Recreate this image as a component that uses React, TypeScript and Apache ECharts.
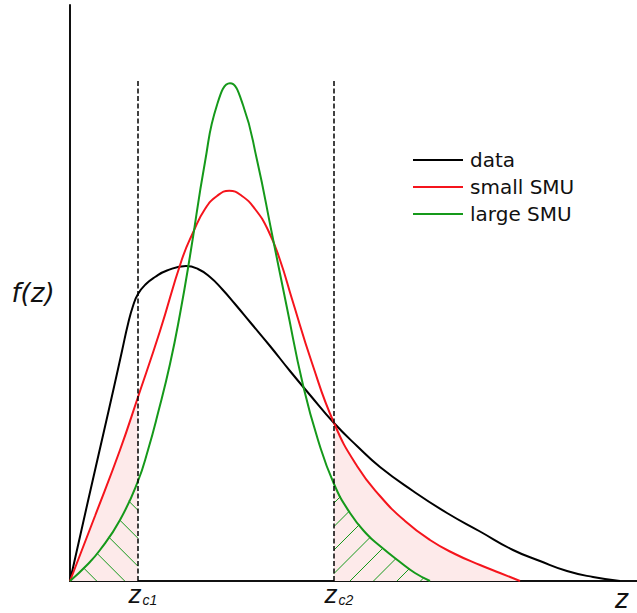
import React, { useEffect, useRef } from 'react';
import * as echarts from 'echarts';

// critical cut-offs z_c1, z_c2
const zCritical = [0.68, 2.64];
const zCriticalNames = ['c1', 'c2'];
const dashTop = 5.01;

const seriesNames = ['data', 'small SMU', 'large SMU'];

const dataCurve = [
  [0, 0], [0.18, 0.8], [0.34, 1.5], [0.44, 1.94], [0.52, 2.3], [0.58, 2.57], [0.63, 2.75],
  [0.68, 2.87], [0.76, 2.97], [0.85, 3.04], [0.97, 3.105], [1.16, 3.15], [1.28, 3.12],
  [1.4, 3.04], [1.52, 2.92], [1.65, 2.77], [1.8, 2.59], [2.0, 2.35], [2.2, 2.1], [2.4, 1.86],
  [2.64, 1.58], [2.87, 1.35], [3.1, 1.14], [3.43, 0.9], [3.77, 0.68], [4.1, 0.495],
  [4.43, 0.31], [4.7, 0.2], [4.97, 0.1], [5.23, 0.04], [5.5, 0],
];

const smallSMU = [
  [0, 0], [0.25, 0.65], [0.5, 1.31], [0.68, 1.84], [0.9, 2.5], [1.117, 3.21], [1.233, 3.49],
  [1.35, 3.72], [1.47, 3.85], [1.593, 3.903], [1.72, 3.85], [1.85, 3.72], [1.98, 3.51],
  [2.1, 3.21], [2.22, 2.82], [2.42, 2.18], [2.64, 1.58], [2.87, 1.15], [3.1, 0.85],
  [3.35, 0.6], [3.6, 0.41], [3.85, 0.27], [4.1, 0.16], [4.3, 0.08], [4.5, 0],
];

const largeSMU = [
  [0, 0], [0.16, 0.15], [0.3, 0.31], [0.5, 0.61], [0.68, 1.0], [0.78, 1.31], [0.88, 1.68],
  [1.0, 2.17], [1.1, 2.67], [1.2, 3.25], [1.35, 4.19], [1.47, 4.76], [1.6, 4.977],
  [1.73, 4.76], [1.87, 4.21], [2.02, 3.47], [2.17, 2.73], [2.33, 1.96], [2.48, 1.41],
  [2.64, 0.97], [2.8, 0.68], [2.967, 0.47], [3.1, 0.35], [3.3, 0.19], [3.45, 0.08], [3.6, 0],
];

const colors = ['#000000', '#f5141c', '#15991a'];

function interp(pts: number[][], x: number): number {
  if (x <= pts[0][0]) return pts[0][1];
  for (let i = 1; i < pts.length; i++) {
    if (x <= pts[i][0]) {
      const [x0, y0] = pts[i - 1];
      const [x1, y1] = pts[i];
      return y0 + ((y1 - y0) * (x - x0)) / (x1 - x0);
    }
  }
  return pts[pts.length - 1][1];
}

// hatch segments under the green curve in both tails
function buildHatch(): number[][][] {
  const segs: number[][][] = [];
  const [c1, c2] = zCritical;
  // left tail: lines y = a - x ("\")
  const gL = 0.28;
  for (let a = 0.267; a < c1 + interp(largeSMU, c1); a += gL) {
    let sx: number, sy: number;
    if (a <= c1) { sx = a; sy = 0; } else { sx = c1; sy = a - c1; }
    let x = sx;
    while (x > 0 && a - x < interp(largeSMU, x)) x -= 0.001;
    if (sx - x > 0.005) segs.push([[sx, sy], [x, a - x]]);
  }
  // right tail: lines y = x - a ("/")
  const gR = 0.235;
  for (let a = 2.80 - 6 * gR; a < 3.6; a += gR) {
    let sx: number, sy: number;
    if (a >= c2) { sx = a; sy = 0; } else { sx = c2; sy = c2 - a; }
    if (sy >= interp(largeSMU, c2)) continue;
    let x = sx;
    while (x < 3.6 && x - a < interp(largeSMU, x)) x += 0.001;
    if (x - sx > 0.005) segs.push([[sx, sy], [x, x - a]]);
  }
  return segs;
}

export default function App() {
  const ref = useRef<HTMLDivElement>(null);
  useEffect(() => {
    const chart = echarts.init(ref.current!, null, { renderer: 'svg' });
    const [c1, c2] = zCritical;
    const leftTail = smallSMU.filter((p) => p[0] <= c1 + 1e-9);
    const rightTail = smallSMU.filter((p) => p[0] >= c2 - 1e-9);
    const hatch = buildHatch();

    const series: any[] = [
      {
        type: 'line', data: leftTail, smooth: true, symbol: 'none', silent: true,
        lineStyle: { width: 0 }, areaStyle: { color: '#fdeaea', opacity: 1 }, z: 1,
      },
      {
        type: 'line', data: rightTail, smooth: true, symbol: 'none', silent: true,
        lineStyle: { width: 0 }, areaStyle: { color: '#fdeaea', opacity: 1 }, z: 1,
      },
      ...hatch.map((seg) => ({
        type: 'line', data: seg, symbol: 'none', silent: true, z: 2,
        lineStyle: { color: colors[2], width: 1 },
      })),
      ...[dataCurve, smallSMU, largeSMU].map((d, i) => ({
        name: seriesNames[i], type: 'line', data: d, smooth: true, symbol: 'none',
        showSymbol: false, z: 3, lineStyle: { color: colors[i], width: 2 },
        itemStyle: { color: colors[i] },
      })),
      ...zCritical.map((zc) => ({
        type: 'line', data: [[zc, 0], [zc, dashTop]], symbol: 'none', silent: true, z: 4,
        lineStyle: { color: '#000', width: 1.5, type: [5, 2.5] },
      })),
    ];

    chart.setOption({
      animation: false,
      grid: { left: 70, right: 0, top: 5, bottom: 32 },
      legend: {
        data: seriesNames.map((n) => ({ name: n, icon: 'rect' })),
        orient: 'vertical', left: 408, top: 143,
        itemWidth: 50, itemHeight: 2, itemGap: 3,
        textStyle: { fontFamily: 'DejaVu Sans', fontSize: 20, lineHeight: 24, color: '#111', padding: [0, 0, 0, 2] },
      },
      xAxis: {
        type: 'value', min: 0, max: 5.67,
        axisLine: { show: true, onZero: false, lineStyle: { color: '#111', width: 2 } },
        axisTick: { show: false }, splitLine: { show: false },
        axisLabel: {
          show: true, customValues: zCritical, margin: 4, padding: [0, 0, 0, 10],
          formatter: (v: number) => {
            const i = zCritical.findIndex((z) => Math.abs(z - v) < 1e-6);
            return '{z|z}{s|' + (zCriticalNames[i] || '') + '}';
          },
          rich: {
            z: { fontFamily: 'Liberation Sans', fontStyle: 'italic', fontSize: 26, color: '#111', lineHeight: 22, verticalAlign: 'bottom' },
            s: { fontFamily: 'Liberation Sans', fontStyle: 'italic', fontSize: 14, color: '#111', lineHeight: 14, verticalAlign: 'bottom', padding: [0, 0, 0, 1] },
          },
        },
      },
      yAxis: {
        type: 'value', min: 0, max: 5.76,
        axisLine: { show: true, onZero: false, lineStyle: { color: '#111', width: 2 } },
        axisTick: { show: false }, splitLine: { show: false }, axisLabel: { show: false },
      },
      graphic: [
        {
          type: 'text', x: 33, y: 293,
          style: { text: 'f(z)', fontFamily: 'DejaVu Sans', fontStyle: 'italic', fontSize: 26, fill: '#111', align: 'center', verticalAlign: 'middle' },
        },
        {
          type: 'text', x: 622, y: 598,
          style: { text: 'z', fontFamily: 'Liberation Sans', fontStyle: 'italic', fontSize: 28, fill: '#111', align: 'center', verticalAlign: 'middle' },
        },
      ],
      series,
    });
    return () => chart.dispose();
  }, []);
  return <div ref={ref} style={{ position: 'absolute', left: 0, top: 0, width: 637, height: 613 }} />;
}
